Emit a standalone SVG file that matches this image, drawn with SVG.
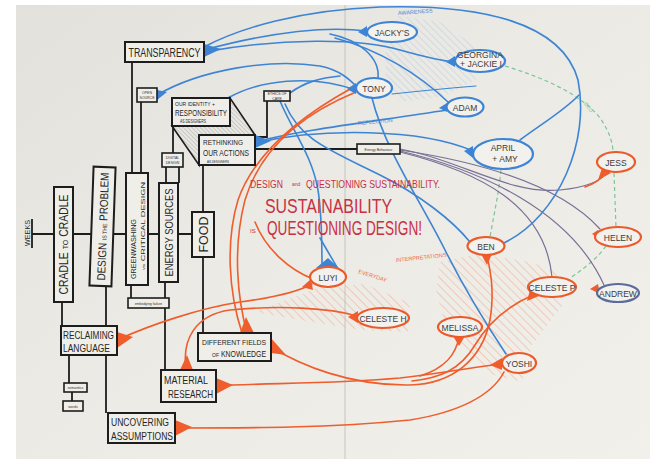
<svg xmlns="http://www.w3.org/2000/svg" width="657" height="466" viewBox="0 0 657 466">
<defs>
  <linearGradient id="paper" x1="0" y1="0" x2="1" y2="1">
    <stop offset="0" stop-color="#e2e1dc"/>
    <stop offset="0.45" stop-color="#ebeae5"/>
    <stop offset="1" stop-color="#f1f0eb"/>
  </linearGradient>
  <pattern id="hB" width="5" height="5" patternUnits="userSpaceOnUse" patternTransform="rotate(-45)">
    <line x1="0" y1="0" x2="0" y2="5" stroke="#a9c4e4" stroke-width="0.8"/>
  </pattern>
  <pattern id="hR" width="6" height="6" patternUnits="userSpaceOnUse" patternTransform="rotate(-45)">
    <line x1="0" y1="0" x2="0" y2="6" stroke="#f2a080" stroke-width="0.9"/>
  </pattern>
  <pattern id="hK" width="3" height="3" patternUnits="userSpaceOnUse" patternTransform="rotate(-45)">
    <line x1="0" y1="0" x2="0" y2="3" stroke="#6a6a6a" stroke-width="0.5"/>
  </pattern>
</defs>
<style>
  .box{fill:#efeee9;stroke:#1d1d1d;stroke-width:2}
  .sb{fill:#efeee9;stroke:#1d1d1d;stroke-width:1.6}
  .bl{fill:none;stroke:#1d1d1d;stroke-width:1.8}
  .b{fill:none;stroke:#3d84d4;stroke-width:1.6;stroke-linecap:round}
  .bt{fill:none;stroke:#3d84d4;stroke-width:1;stroke-linecap:round}
  .r{fill:none;stroke:#ef5d2c;stroke-width:1.6;stroke-linecap:round}
  .p{fill:none;stroke:#7a6f96;stroke-width:1.2;stroke-linecap:round}
  .g{fill:none;stroke:#7cc596;stroke-width:1.2;stroke-dasharray:4 3}
  .bf{fill:#3d84d4}
  .rf{fill:#ef5d2c}
  .t{font-family:"Liberation Sans","DejaVu Sans",sans-serif;fill:#262626}
  .tiny{font-family:"Liberation Sans",sans-serif;fill:#333;font-size:3.5px;text-anchor:middle}
  .eB{fill:#f2f1ed;stroke:#3d84d4;stroke-width:2.2}
  .eR{fill:#f2f1ed;stroke:#ec5a2a;stroke-width:2.2}
  .et{font-family:"Liberation Sans",sans-serif;fill:#3b3b3b;font-size:8.5px;text-anchor:middle}
  .red{font-family:"Liberation Sans",sans-serif;fill:#c93043}
  .ab{font-family:"Liberation Sans",sans-serif;fill:#4c8ad6;font-size:5.5px}
  .ar{font-family:"Liberation Sans",sans-serif;fill:#ef6a3c;font-size:5.5px}
</style>

<!-- paper -->
<rect x="0" y="0" width="657" height="466" fill="#ffffff"/>
<rect x="16" y="5" width="634" height="454" fill="url(#paper)"/>
<line x1="345" y1="5" x2="345" y2="459" stroke="#bcbab3" stroke-width="0.8"/>

<!-- hatched areas -->
<g id="hatches">
  <polygon points="385,42 398,16 440,22 478,48 476,80 445,96 400,102 386,86" fill="url(#hB)"/>
  <polygon points="255,312 318,288 365,284 410,303 408,332 362,330 300,320" fill="url(#hR)"/>
  <polygon points="440,262 478,254 530,262 562,274 562,306 532,345 522,382 490,374 468,355 444,320 436,290" fill="url(#hR)"/>
  <polygon points="172,126 199,165 199,135 255,135 230,98 230,126" fill="url(#hK)" stroke="#1d1d1d" stroke-width="1.6"/>
</g>

<!-- connectors -->
<g id="connectors">
  <!-- black tree -->
  <line class="bl" x1="32" y1="234" x2="192" y2="234"/>
  <line class="bl" x1="32" y1="219" x2="32" y2="248"/>
  <line class="bl" x1="62" y1="302" x2="62" y2="326"/>
  <line class="bl" x1="69" y1="355" x2="69" y2="383"/>
  <line class="bl" x1="72" y1="392" x2="72" y2="401"/>
  <line class="bl" x1="106" y1="286" x2="106" y2="413"/>
  <line class="bl" x1="131" y1="285" x2="131" y2="298"/>
  <line class="bl" x1="165" y1="282" x2="165" y2="370"/>
  <line class="bl" x1="203" y1="257" x2="203" y2="333"/>
  <line class="bl" x1="132" y1="62" x2="132" y2="173"/>
  <line class="bl" x1="141" y1="102" x2="141" y2="173"/>
  <line class="bl" x1="173" y1="126" x2="173" y2="153"/>
  <line class="bl" x1="166" y1="167" x2="166" y2="183"/>
  <line class="bl" x1="179" y1="167" x2="179" y2="183"/>
  <line class="bl" x1="203" y1="165" x2="203" y2="212"/>
  <polyline class="bl" points="255,137 267,137 267,101"/>
  <line class="bl" x1="255" y1="149" x2="357" y2="149"/>

  <!-- green dashed -->
  <path class="g" d="M505,66 C545,78 582,95 600,118 C610,132 613,145 613,152"/>
  <path class="g" d="M614,173 L616,227"/>
  <path class="g" d="M606,246 C596,260 582,270 570,278"/>
  <path class="g" d="M501,170 C499,192 494,214 490,237"/>

  <!-- purple/dark lines from small box -->
  <path class="p" d="M400,149 C460,160 510,195 560,190 C590,187 602,180 607,172"/>
  <path class="p" d="M400,150 C480,162 560,185 600,229"/>
  <path class="p" d="M400,151 C480,170 570,210 604,285"/>
  <path class="p" d="M400,152 C480,172 545,205 552,277"/>

  <!-- blue -->
  <path class="b" d="M204,47 C240,28 300,10 380,7 C480,4 562,22 578,80 C590,140 560,215 504,243"/>
  <path class="b" d="M204,50 C260,35 320,25 367,31"/>
  <path class="b" d="M204,52 C280,38 360,38 400,50 C425,57 440,61 455,62"/>
  <path class="b" d="M330,34 C360,40 380,58 378,78"/>
  <path class="b" d="M335,38 C380,50 420,75 448,102"/>
  <path class="b" d="M157,95 C200,70 270,58 320,66 C340,70 350,80 356,86"/>
  <path class="b" d="M228,98 C260,80 310,74 356,90"/>
  <path class="b" d="M290,93 C305,82 320,78 340,76"/>
  <path class="b" d="M280,101 C292,130 312,155 318,190 C322,215 322,245 322,268"/>
  <path class="b" d="M320,238 C328,252 334,262 338,269"/>
  <path class="b" d="M285,104 C300,140 330,150 380,175 C420,195 452,220 470,242"/>
  <path class="b" d="M255,142 C300,130 370,122 447,110"/>
  <path class="b" d="M255,143 C320,128 420,128 473,151"/>
  <path class="b" d="M520,140 C540,125 565,110 579,95"/>
  <path class="b" d="M372,98 C385,150 420,200 445,250 C465,290 490,330 506,354"/>
  <path class="bt" d="M392,94 C420,91 450,88 476,86"/>

  <!-- red -->
  <path class="r" d="M117,340 C150,325 200,308 240,302 C270,298 298,292 312,284"/>
  <path class="r" d="M313,279 C290,270 266,250 255,222"/>
  <path class="r" d="M186,368 C182,340 195,315 230,310 C280,305 330,308 357,316"/>
  <path class="r" d="M216,386 C260,383 330,384 400,378 C450,372 480,366 502,364"/>
  <path class="r" d="M459,337 C456,355 445,368 420,376"/>
  <path class="r" d="M247,333 C238,300 232,250 245,200 C260,150 300,115 356,92"/>
  <path class="r" d="M242,333 C228,290 226,240 238,200 C252,160 290,122 352,88"/>
  <path class="r" d="M271,347 C300,365 350,386 410,385 C452,384 482,360 490,320 C495,290 490,270 487,255"/>
  <path class="r" d="M533,295 C510,305 490,320 475,345 C460,370 440,378 412,381"/>
  <path class="r" d="M504,372 C492,395 460,412 410,420 C330,428 250,428 175,428"/>
  <path class="r" d="M607,172 C600,180 592,185 585,187"/>

  <!-- tapers -->
  <polygon class="bf" points="204,44 204,57 221,49"/>
  <polygon class="bf" points="157,90 157,100 167,92"/>
  <polygon class="bf" points="255,135 255,148 271,141"/>
  <polygon class="bf" points="367,26 367,37 358,32"/>
  <polygon class="bf" points="455,56 455,67 446,62"/>
  <polygon class="bf" points="356,83 356,94 347,89"/>
  <polygon class="bf" points="447,103 447,112 439,108"/>
  <polygon class="bf" points="473,146 473,158 464,151"/>
  <polygon class="bf" points="316,268 341,270 328,258"/>
  <polygon class="rf" points="117,332 117,348 133,337"/>
  <polygon class="rf" points="180,370 193,370 187,355"/>
  <polygon class="rf" points="216,378 216,394 233,385"/>
  <polygon class="rf" points="240,333 254,333 246,317"/>
  <polygon class="rf" points="271,338 271,353 286,355"/>
  <polygon class="rf" points="175,420 175,436 192,427"/>
  <polygon class="rf" points="481,254 492,254 487,265"/>
  <polygon class="rf" points="502,358 502,370 490,365"/>
  <polygon class="rf" points="453,336 465,336 459,346"/>
  <polygon class="rf" points="530,290 539,296 527,301"/>
  <polygon class="rf" points="311,279 313,290 302,287"/>
  <polygon class="rf" points="358,311 358,323 348,317"/>
  <polygon class="rf" points="602,168 611,173 598,180"/>
  <polygon class="rf" points="598,230 602,240 592,234"/>
  <polygon class="rf" points="598,284 600,294 590,289"/>
</g>

<!-- black boxes -->
<g id="weeks"><text class="t" transform="translate(27,233) rotate(-90)" y="2.5" font-size="7" text-anchor="middle" textLength="26" lengthAdjust="spacingAndGlyphs">WEEKS</text></g>

<g id="transparency">
  <rect class="box" x="125" y="42" width="79" height="20"/>
  <text class="t" x="164.5" y="57" font-size="12" text-anchor="middle" textLength="72" lengthAdjust="spacingAndGlyphs">TRANSPARENCY</text>
</g>
<g id="small-a">
  <rect class="sb" x="137" y="88" width="20" height="14"/>
  <text class="tiny" x="147" y="94">OPEN</text><text class="tiny" x="147" y="99">SOURCE</text>
</g>
<g id="identity">
  <rect class="box" x="172" y="98" width="58" height="28"/>
  <text class="t" x="175" y="106" font-size="5" textLength="40" lengthAdjust="spacingAndGlyphs">OUR IDENTITY +</text>
  <text class="t" x="175" y="116" font-size="9" textLength="52" lengthAdjust="spacingAndGlyphs">RESPONSIBILITY</text>
  <text class="t" x="180" y="123" font-size="4.5" textLength="26" lengthAdjust="spacingAndGlyphs">AS DESIGNERS</text>
</g>
<g id="small-b">
  <rect class="sb" x="264" y="91" width="26" height="10"/>
  <text class="tiny" x="277" y="95">ETHICS OF</text><text class="tiny" x="277" y="99.5">CARE</text>
</g>
<g id="rethinking">
  <rect class="box" x="199" y="135" width="56" height="30"/>
  <text class="t" x="203" y="145" font-size="8" textLength="40" lengthAdjust="spacingAndGlyphs">RETHINKING</text>
  <text class="t" x="203" y="156" font-size="9.5" textLength="46" lengthAdjust="spacingAndGlyphs">OUR ACTIONS</text>
  <text class="t" x="207" y="162.5" font-size="4" textLength="22" lengthAdjust="spacingAndGlyphs">AS DESIGNERS</text>
</g>
<g id="small-c">
  <rect class="sb" x="162" y="153" width="21" height="14"/>
  <text class="tiny" x="172.5" y="159">DIGITAL</text><text class="tiny" x="172.5" y="164">DESIGN</text>
</g>
<g id="small-d">
  <rect class="sb" x="357" y="144" width="43" height="10"/>
  <text class="tiny" x="378.5" y="150.5" font-size="4">Energy Behaviour</text>
</g>
<g id="cradle">
  <rect class="box" x="54" y="187" width="19" height="115"/>
  <text class="t" transform="translate(63.5,244.5) rotate(-90)" y="4.5" font-size="12" text-anchor="middle" textLength="100" lengthAdjust="spacingAndGlyphs">CRADLE <tspan font-size="8">TO</tspan> CRADLE</text>
</g>
<g id="design-problem">
  <rect class="box" x="91.5" y="167" width="22" height="119" transform="rotate(2 102.5 226.5)"/>
  <text class="t" transform="translate(102.5,226.5) rotate(-88)" y="4.5" font-size="11.5" text-anchor="middle" textLength="108" lengthAdjust="spacingAndGlyphs">DESIGN <tspan font-size="6">IS THE</tspan> PROBLEM</text>
</g>
<g id="greenwashing">
  <rect class="box" x="126" y="173" width="22" height="112"/>
  <text class="t" transform="translate(133,249) rotate(-90)" y="2.5" font-size="7" text-anchor="middle" textLength="60" lengthAdjust="spacingAndGlyphs">GREENWASHING</text>
  <text class="t" transform="translate(142.5,226) rotate(-90)" y="2.2" font-size="6" text-anchor="middle" textLength="88" lengthAdjust="spacingAndGlyphs"><tspan font-size="4">vs</tspan> CRITICAL DESIGN</text>
</g>
<g id="energy">
  <rect class="box" x="159" y="183" width="19" height="99"/>
  <text class="t" transform="translate(168.5,232.5) rotate(-90)" y="4" font-size="11" text-anchor="middle" textLength="88" lengthAdjust="spacingAndGlyphs">ENERGY SOURCES</text>
</g>
<g id="food">
  <rect class="box" x="192" y="212" width="22" height="45"/>
  <text class="t" transform="translate(203,234.5) rotate(-90)" y="4.5" font-size="13" text-anchor="middle" textLength="36" lengthAdjust="spacingAndGlyphs">FOOD</text>
</g>
<g id="small-e">
  <rect class="sb" x="128" y="298" width="41" height="10"/>
  <text class="tiny" x="148.5" y="304.5" font-size="4">embodying failure</text>
</g>
<g id="reclaiming">
  <rect class="box" x="61" y="326" width="56" height="29"/>
  <text class="t" x="63" y="339" font-size="10" textLength="51" lengthAdjust="spacingAndGlyphs">RECLAIMING</text>
  <text class="t" x="63" y="352" font-size="10" textLength="47" lengthAdjust="spacingAndGlyphs">LANGUAGE</text>
</g>
<g id="tiny-1">
  <rect class="sb" x="64" y="383" width="23" height="9"/>
  <text class="tiny" x="75.5" y="389">semantics</text>
</g>
<g id="tiny-2">
  <rect class="sb" x="63" y="401" width="20" height="10"/>
  <text class="tiny" x="73" y="407.5">words</text>
</g>
<g id="different-fields">
  <rect class="box" x="198" y="333" width="73" height="28"/>
  <text class="t" x="202" y="345" font-size="8" textLength="64" lengthAdjust="spacingAndGlyphs">DIFFERENT FIELDS</text>
  <text class="t" x="212" y="357" font-size="5">OF</text>
  <text class="t" x="221" y="357" font-size="9" textLength="45" lengthAdjust="spacingAndGlyphs">KNOWLEDGE</text>
</g>
<g id="material">
  <rect class="box" x="161" y="370" width="55" height="32"/>
  <text class="t" x="164" y="384" font-size="10.5" textLength="44" lengthAdjust="spacingAndGlyphs">MATERIAL</text>
  <text class="t" x="168" y="398" font-size="10.5" textLength="45" lengthAdjust="spacingAndGlyphs">RESEARCH</text>
</g>
<g id="uncovering">
  <rect class="box" x="108" y="413" width="67" height="30"/>
  <text class="t" x="111" y="426" font-size="10" textLength="58" lengthAdjust="spacingAndGlyphs">UNCOVERING</text>
  <text class="t" x="111" y="440" font-size="10" textLength="62" lengthAdjust="spacingAndGlyphs">ASSUMPTIONS</text>
</g>

<!-- ellipse nodes -->
<g id="jackys"><ellipse class="eB" cx="392" cy="32" rx="25" ry="10"/><text class="et" x="392" y="35.5">JACKY'S</text></g>
<g id="georgina"><ellipse class="eB" cx="480" cy="61" rx="25" ry="11"/><text class="et" x="480" y="58" font-size="5.8">GEORGINA</text><text class="et" x="481" y="67" font-size="5.8">+ JACKIE I</text></g>
<g id="tony"><ellipse class="eB" cx="374" cy="88" rx="18" ry="10"/><text class="et" x="374" y="91.5">TONY</text></g>
<g id="adam"><ellipse class="eB" cx="465" cy="107" rx="18.5" ry="9.5"/><text class="et" x="465" y="110.5">ADAM</text></g>
<g id="april-amy"><ellipse class="eB" cx="503" cy="154" rx="30" ry="15"/><text class="et" x="503" y="151">APRIL</text><text class="et" x="505" y="162">+ AMY</text></g>
<g id="jess"><ellipse class="eR" cx="616" cy="162" rx="19" ry="10"/><text class="et" x="616" y="165.5">JESS</text></g>
<g id="helen"><ellipse class="eR" cx="618" cy="237" rx="23" ry="10"/><text class="et" x="618" y="240.5">HELEN</text></g>
<g id="andrew"><ellipse cx="618" cy="293" rx="21" ry="9" fill="#f2f1ed" stroke="#5c6b9c" stroke-width="2.2"/><text class="et" x="618" y="296.5" font-size="8">ANDREW</text></g>
<g id="ben"><ellipse class="eR" cx="486" cy="246" rx="18.5" ry="9"/><text class="et" x="486" y="249.5">BEN</text></g>
<g id="celeste-p"><ellipse class="eR" cx="552" cy="287" rx="24" ry="10"/><text class="et" x="552" y="290.5" font-size="8">CELESTE P</text></g>
<g id="luyi"><ellipse class="eR" cx="328" cy="277" rx="18" ry="10"/><text class="et" x="328" y="280.5">LUYI</text></g>
<g id="celeste-h"><ellipse class="eR" cx="383" cy="318" rx="26" ry="10"/><text class="et" x="383" y="321.5">CELESTE H</text></g>
<g id="melissa"><ellipse class="eR" cx="460" cy="327" rx="22" ry="10"/><text class="et" x="460" y="330.5" font-size="8">MELISSA</text></g>
<g id="yoshi"><ellipse class="eR" cx="519" cy="363" rx="17" ry="10"/><text class="et" x="519" y="366.5">YOSHI</text></g>

<!-- headline texts -->
<g id="headline">
  <text class="red" x="250" y="188" font-size="10" textLength="33" lengthAdjust="spacingAndGlyphs">DESIGN</text>
  <text class="red" x="292" y="186" font-size="5">and</text>
  <text class="red" x="306" y="188" font-size="11" textLength="134" lengthAdjust="spacingAndGlyphs">QUESTIONING SUSTAINABILITY.</text>
  <text class="red" x="265" y="213" font-size="20" textLength="127" lengthAdjust="spacingAndGlyphs">SUSTAINABILITY</text>
  <text class="red" x="250" y="233" font-size="6">IS</text>
  <text class="red" x="267" y="235" font-size="20" textLength="155" lengthAdjust="spacingAndGlyphs">QUESTIONING DESIGN!</text>
</g>

<!-- small annotations -->
<g id="annotations">
  <text class="ab" x="398" y="15" transform="rotate(-4 398 15)">AWARENESS</text>
  <text class="ab" x="358" y="125" transform="rotate(-5 358 125)">REFLECTION</text>
  <text font-family="Liberation Sans,sans-serif" font-size="5" fill="#7cc596" x="584" y="104" transform="rotate(55 584 104)">ECO</text>
  <text class="ar" x="358" y="273" transform="rotate(18 358 273)">EVERYDAY</text>
  <text class="ar" x="396" y="262" font-size="4.5" transform="rotate(-6 396 262)">INTERPRETATIONS</text>
</g>
</svg>
